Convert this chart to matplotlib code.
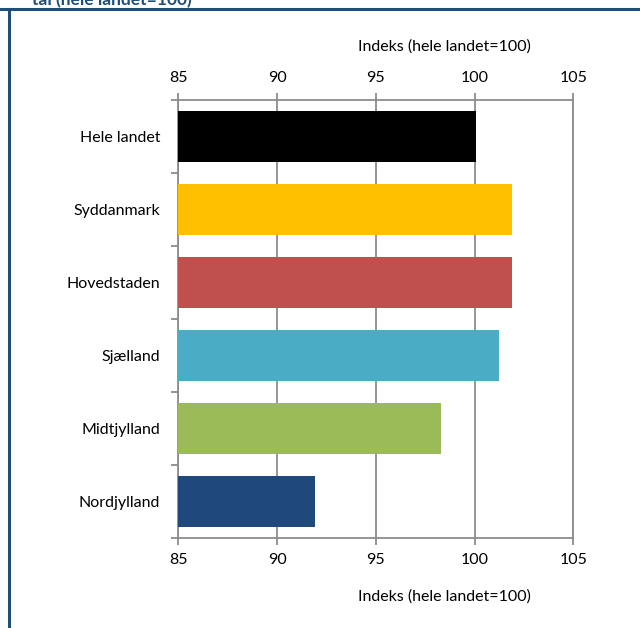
import numpy as np
import matplotlib.pyplot as plt
from matplotlib.lines import Line2D

# Data
regioner = ["Hele landet", "Syddanmark", "Hovedstaden", "Sjælland", "Midtjylland", "Nordjylland"]
indeks = [100.05, 101.9, 101.9, 101.25, 98.3, 91.9]
farver = ["#000000", "#FFC000", "#C0504D", "#4BACC6", "#9BBB59", "#1F497D"]
xticks = [85, 90, 95, 100, 105]

plt.rcParams['font.family'] = ['Lato', 'DejaVu Sans']

fig = plt.figure(figsize=(6.4, 6.28), dpi=100)
ax = fig.add_axes([0.2786, 0.1433, 0.6172, 0.6975])

y = np.arange(len(regioner))
ax.barh(y, [v - 85 for v in indeks], left=85, height=0.71, color=farver, zorder=3)
ax.set_ylim(len(regioner) - 0.5, -0.5)
ax.set_xlim(85, 105)

ax.set_xticks(xticks)
ax.xaxis.grid(True, color="#8c8c8c", linewidth=1.3, zorder=0)
ax.tick_params(axis="x", which="both", top=True, labeltop=True, bottom=True, labelbottom=True,
               direction="out", length=5, color="#8c8c8c", width=1.3, labelsize=11.5, pad=6)

# kategorier i midten, tick-streger ved grænserne
ax.set_yticks(y)
ax.set_yticklabels(regioner, fontsize=11.5)
ax.tick_params(axis="y", which="major", length=0, pad=13)
ax.set_yticks(np.arange(-0.5, len(regioner)), minor=True)
ax.tick_params(axis="y", which="minor", length=5, color="#8c8c8c", width=1.3, direction="out")

for s in ax.spines.values():
    s.set_color("#8c8c8c")
    s.set_linewidth(1.3)

ax.text(0.674, 1.121, "Indeks (hele landet=100)", transform=ax.transAxes, ha="center", va="center", fontsize=11.5)
ax.text(0.674, -0.1347, "Indeks (hele landet=100)", transform=ax.transAxes, ha="center", va="center", fontsize=11.5)

# rammelinjer på siden
fig.add_artist(Line2D([0, 1], [0.985, 0.985], color="#1F4E79", linewidth=2.2, transform=fig.transFigure))
fig.add_artist(Line2D([0.0145, 0.0145], [0, 0.985], color="#1F4E79", linewidth=2.2, transform=fig.transFigure))
fig.text(0.05, 1.0, "tal (hele landet=100)", color="#1F4E79", fontsize=12.5, fontweight="bold",
         ha="left", va="center")

fig.savefig("out.png", dpi=100)
